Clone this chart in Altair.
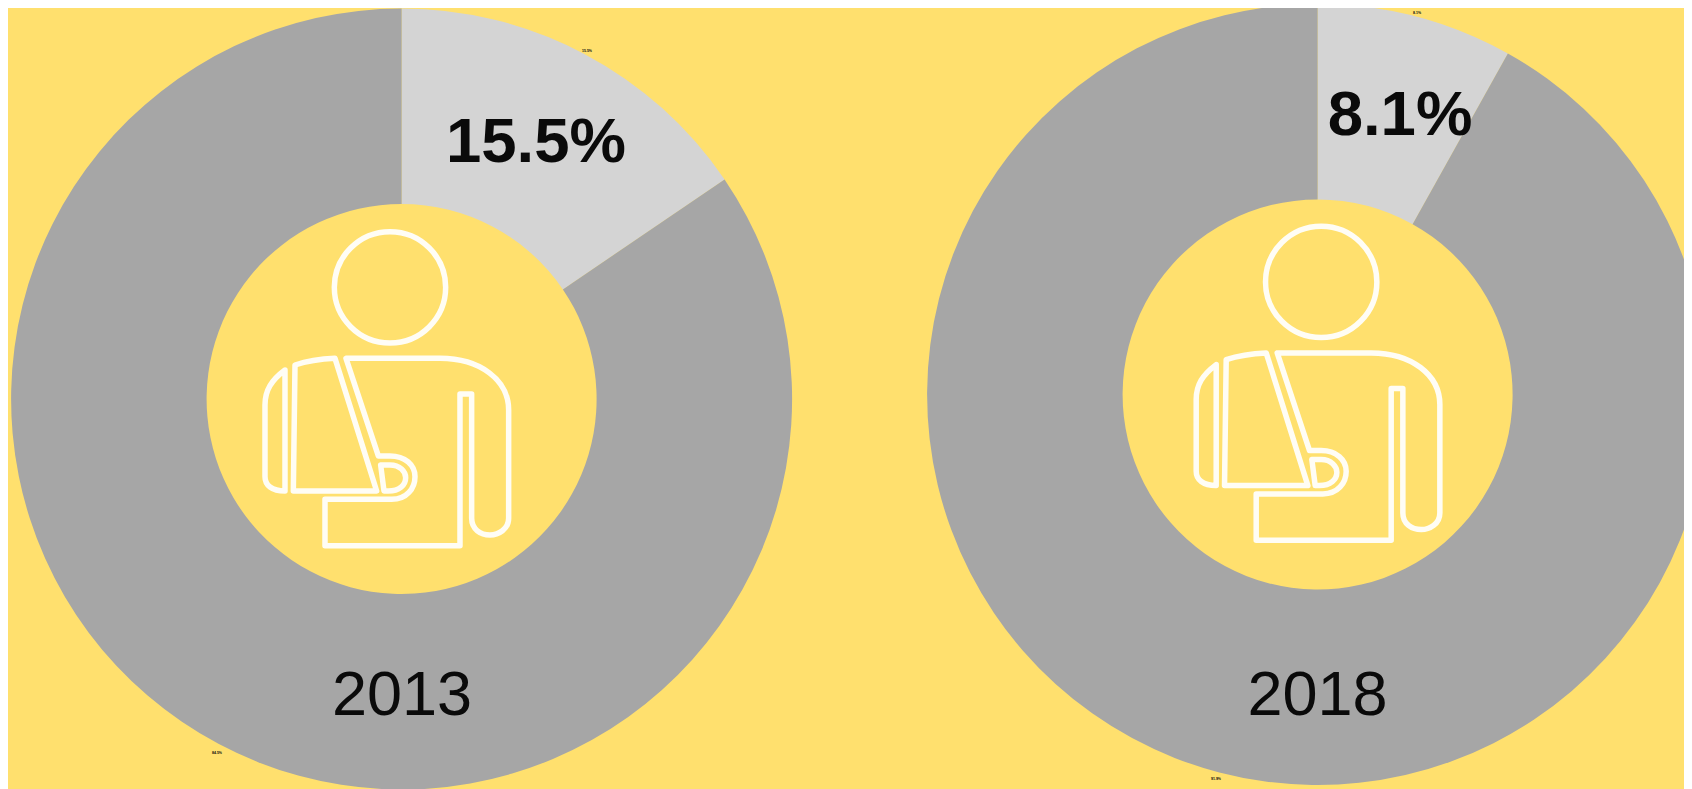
import altair as alt
import pandas as pd

# Values
years = ["2013", "2018"]
shares = [15.5, 8.1]
rest = [84.5, 91.9]

# Page offset of the chart is 8px; layout is given in chart pixels
W, H = 1676, 781
BG = "#FFE06E"
LIGHT = "#D4D4D4"
DARK = "#A6A6A6"
INK = "#0A0A0A"
FONT = "Liberation Sans"

layout = {
    "2013": dict(c=(393.6, 391), pct=(528, 135), yr=(394, 688), icon=(232, 202),
                 tiny_a=(579, 43), tiny_b=(209, 745)),
    "2018": dict(c=(1309.6, 386.5), pct=(1392, 108), yr=(1309.5, 688), icon=(1163.2, 196.6),
                 tiny_a=(1409, 5), tiny_b=(1208, 771)),
}

# Arm-in-a-sling pictogram, drawn as an outline with the symbol's own origin at its top-left
ICON = (
    "M617,232 A167,167 0 1 1 283,232 A167,167 0 1 1 617,232 Z "
    "M135,480 C95,510 75,540 75,585 L75,800 C75,825 95,843 135,843 Z "
    "M165,465 C205,452 245,447 285,445 L410,843 L160,843 Z "
    "M318,445 L600,445 C720,445 806,510 806,600 L806,925 C806,958 775,975 750,975 "
    "C722,975 695,958 695,925 L695,552 L660,552 L660,1007 L255,1007 L255,868 L455,868 "
    "C500,868 525,835 525,800 C525,765 495,738 450,738 L415,738 Z "
    "M422,765 L450,765 C480,765 497,785 497,803 C497,825 478,843 445,843 L432,843 Z"
)

parts = []
for y, a, b in zip(years, shares, rest):
    parts.append({"year": y, "part": "share", "rank": 0, "value": a})
    parts.append({"year": y, "part": "rest", "rank": 1, "value": b})
df = pd.DataFrame(parts)
labels = pd.DataFrame({"year": years, "share": shares, "rest": rest})

layers = []
for y in years:
    L = layout[y]
    cx, cy = L["c"]
    d = df[df.year == y]
    one = labels[labels.year == y]
    layers.append(
        alt.Chart(d)
        .mark_arc(x=cx, y=cy, radius=390.5, radius2=195)
        .encode(
            theta=alt.Theta("value:Q", stack="zero", scale=alt.Scale(domain=[0, 100])),
            color=alt.Color(
                "part:N",
                scale=alt.Scale(domain=["share", "rest"], range=[LIGHT, DARK]),
                legend=None,
            ),
            order=alt.Order("rank:Q"),
        )
    )
    layers.append(
        alt.Chart(one)
        .mark_point(
            x=L["icon"][0], y=L["icon"][1], shape=ICON, size=0.4444,
            filled=False, stroke="#FFFDF5", strokeWidth=5.5, opacity=1,
            strokeJoin="round",
        )
        .encode(detail="year:N")
    )
    layers.append(
        alt.Chart(one)
        .transform_calculate(t="format(datum.share, '.1f') + '%'")
        .mark_text(
            x=L["pct"][0], y=L["pct"][1], font=FONT, fontSize=63.5, fontWeight="bold",
            color=INK, align="center", baseline="middle",
        )
        .encode(text="t:N")
    )
    layers.append(
        alt.Chart(one)
        .mark_text(
            x=L["yr"][0], y=L["yr"][1], font=FONT, fontSize=63, color=INK,
            align="center", baseline="middle",
        )
        .encode(text="year:N")
    )
    layers.append(
        alt.Chart(one)
        .transform_calculate(t="format(datum.share, '.1f') + '%'")
        .mark_text(
            x=L["tiny_a"][0], y=L["tiny_a"][1], font=FONT, fontSize=3.5, fontWeight="bold",
            color=INK, align="center", baseline="middle",
        )
        .encode(text="t:N")
    )
    layers.append(
        alt.Chart(one)
        .transform_calculate(t="format(datum.rest, '.1f') + '%'")
        .mark_text(
            x=L["tiny_b"][0], y=L["tiny_b"][1], font=FONT, fontSize=3.5, fontWeight="bold",
            color=INK, align="center", baseline="middle",
        )
        .encode(text="t:N")
    )

chart = (
    alt.layer(*layers)
    .properties(
        width=W, height=H, background=BG, padding=0,
        autosize=alt.AutoSizeParams(type="none"),
    )
    .resolve_scale(theta="independent")
    .configure_view(stroke=None)
)

chart.save("out.html", embed_options={"renderer": "svg", "actions": False})
